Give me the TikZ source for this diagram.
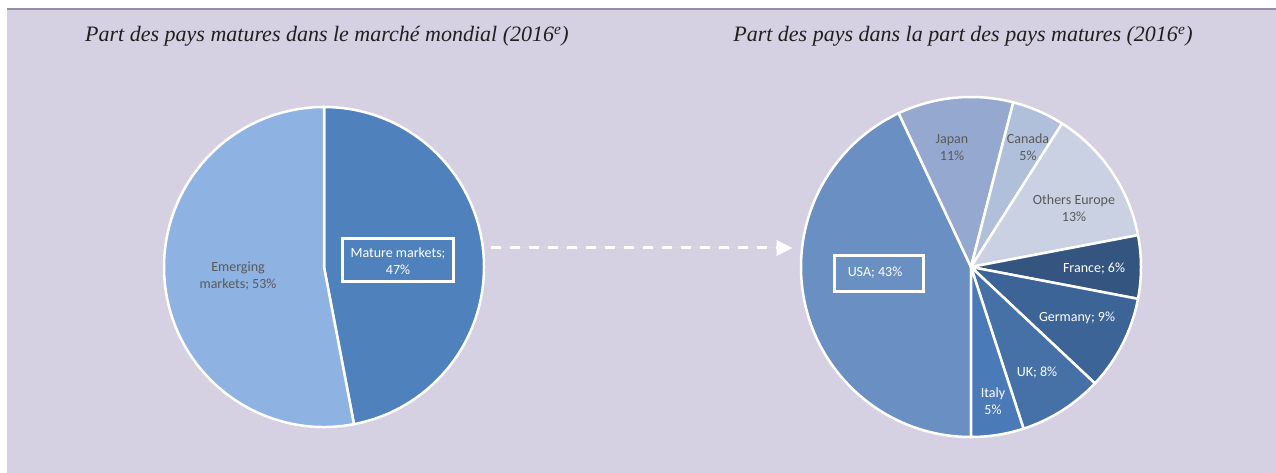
\documentclass[tikz,border=0pt]{standalone}
\usepackage{xcolor}
\usepackage{fontspec}
\setmainfont{Liberation Serif}
\newfontfamily\lblfont{Carlito}
\usepackage{tikz}
\usetikzlibrary{arrows.meta, positioning}
\definecolor{panelbg}{HTML}{D6D1E2}
\definecolor{panelline}{HTML}{968CAA}
\definecolor{titleink}{HTML}{1F1F1F}
\definecolor{labelgray}{HTML}{595959}
\definecolor{emerging}{HTML}{8EB3E3}
\definecolor{mature}{HTML}{4F81BD}
\definecolor{usa}{HTML}{6A8FC3}
\definecolor{japan}{HTML}{95A9D0}
\definecolor{canada}{HTML}{B1C0DA}
\definecolor{othereu}{HTML}{C9D1E3}
\definecolor{france}{HTML}{34557F}
\definecolor{germany}{HTML}{3D6496}
\definecolor{uk}{HTML}{4571A6}
\definecolor{italy}{HTML}{4A7AB8}
\tikzstyle{charttitle} = [anchor=base, font=\itshape\fontsize{22}{26}\selectfont, text=titleink]
\tikzstyle{slice} = [draw=white, line width=2.5pt, line join=round]
\tikzstyle{darklabel} = [align=center, inner sep=0pt, font=\lblfont\fontsize{14}{17}\selectfont, text=labelgray]
\tikzstyle{lightlabel} = [align=center, inner sep=0pt, font=\lblfont\fontsize{14}{17}\selectfont, text=white]
\tikzstyle{valuebox} = [rectangle, draw=white, line width=3pt, inner sep=0pt]
\tikzstyle{flowarrow} = [-{Triangle[length=16pt, width=15pt]}, draw=white, fill=white, line width=3pt, dash pattern=on 10pt off 9pt]

\begin{document}
\begin{tikzpicture}[x=1pt, y=1pt]
    \useasboundingbox (0,0) rectangle (1276,473);
    % Panel
    \fill[white] (0,0) rectangle (1276,473);
    \fill[panelbg] (7,0) rectangle (1276,464);
    \draw[panelline, line width=1.2pt] (7,464) -- (1276,464);

    % Titles
    \node[charttitle] (lefttitle) at (327,431) {Part des pays matures dans le marché mondial (2016\textsuperscript{e})};
    \node[charttitle] (righttitle) at (963,431) {Part des pays dans la part des pays matures (2016\textsuperscript{e})};

    % Left pie: world market
    \coordinate (lpie) at (324,206);
    \filldraw[slice, fill=mature] (lpie) -- ++(90:160) arc[start angle=90, end angle=-79.2, radius=160] -- cycle;
    \filldraw[slice, fill=emerging] (lpie) -- ++(-79.2:160) arc[start angle=-79.2, end angle=-270, radius=160] -- cycle;

    \node[darklabel] (emerg) at (238,197) {Emerging\\markets; 53\%};
    \node[valuebox, minimum width=111pt, minimum height=43pt] (maturebox) at (398,213) {};
    \node[lightlabel] (matur) at (398,212) {Mature markets;\\47\%};

    % Right pie: mature countries
    \coordinate (rpie) at (971,206);
    \filldraw[slice, fill=usa] (rpie) -- ++(270:170) arc[start angle=270, end angle=115.2, radius=170] -- cycle;
    \filldraw[slice, fill=japan] (rpie) -- ++(115.2:170) arc[start angle=115.2, end angle=75.6, radius=170] -- cycle;
    \filldraw[slice, fill=canada] (rpie) -- ++(75.6:170) arc[start angle=75.6, end angle=57.6, radius=170] -- cycle;
    \filldraw[slice, fill=othereu] (rpie) -- ++(57.6:170) arc[start angle=57.6, end angle=10.8, radius=170] -- cycle;
    \filldraw[slice, fill=france] (rpie) -- ++(10.8:170) arc[start angle=10.8, end angle=-10.8, radius=170] -- cycle;
    \filldraw[slice, fill=germany] (rpie) -- ++(-10.8:170) arc[start angle=-10.8, end angle=-43.2, radius=170] -- cycle;
    \filldraw[slice, fill=uk] (rpie) -- ++(-43.2:170) arc[start angle=-43.2, end angle=-72, radius=170] -- cycle;
    \filldraw[slice, fill=italy] (rpie) -- ++(-72:170) arc[start angle=-72, end angle=-90, radius=170] -- cycle;

    \node[valuebox, minimum width=89pt, minimum height=36pt] (usabox) at (879,199.5) {};
    \node[lightlabel] (usa) at (875,200) {USA; 43\%};
    \node[darklabel] (japan) at (952,325.5) {Japan\\11\%};
    \node[darklabel] (canada) at (1028,326) {Canada\\5\%};
    \node[darklabel] (othereu) at (1074,264.5) {Others Europe\\13\%};
    \node[lightlabel] (france) at (1094,204) {France; 6\%};
    \node[lightlabel] (germany) at (1077,155) {Germany; 9\%};
    \node[lightlabel] (uk) at (1037,100) {UK; 8\%};
    \node[lightlabel] (italy) at (993,72) {Italy\\5\%};

    % Link between the two pies
    \coordinate (arrowtail) at (490.5,225);
    \coordinate (arrowtip) at (792.5,225);
    \draw[flowarrow] (arrowtail) -- (arrowtip);
\end{tikzpicture}
\end{document}
